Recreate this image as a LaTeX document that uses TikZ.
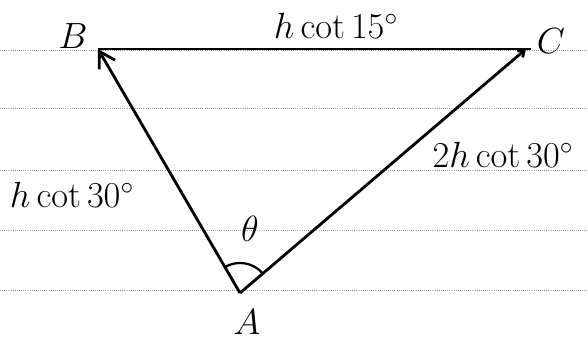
\documentclass[tikz,border=0pt]{standalone}
\usepackage{tikz}
\usetikzlibrary{arrows.meta}
\usepackage{amsmath}
\definecolor{ruling}{HTML}{9A9A9A}

\begin{document}
\begin{tikzpicture}[x=0.025cm,y=0.025cm,
  side/.style={line width=2pt},
  lbl/.style={font=\huge,scale=1.25,inner sep=1pt},
  rule/.style={ruling,densely dotted,line width=0.5pt}]
  \useasboundingbox (0,0) rectangle (588,340);
  % paper lines
  \foreach \y in {290,232,170,110,50}
    \draw[rule] (0,\y) -- (588,\y);
  \coordinate (A) at (240,47);
  \coordinate (B) at (98,291);
  \coordinate (C) at (526,291);
  \coordinate (Cend) at (531,291);
  \draw[side] (B) -- (Cend);
  \draw[side,-{Straight Barb[length=11pt,width=13pt]}] (A) -- (B);
  \draw[side,-{Straight Barb[length=4pt,width=6pt]}] (A) -- (C);
  \draw[line width=1.6pt] ([shift={(40.8:0.75cm)}]A) arc[start angle=40.8,end angle=120.2,radius=0.75cm];
  \node[lbl] (labA) at (247,18) {$A$};
  \node[lbl] (labB) at (73,304) {$B$};
  \node[lbl] (labC) at (551,299) {$C$};
  \node[lbl] (theta) at (250,111) {$\theta$};
  \node[lbl] (bc) at (336,314) {$h\cot 15^\circ$};
  \node[lbl] (ab) at (72,145) {$h\cot 30^\circ$};
  \node[lbl] (ac) at (503,185) {$2h\cot 30^\circ$};
\end{tikzpicture}
\end{document}
